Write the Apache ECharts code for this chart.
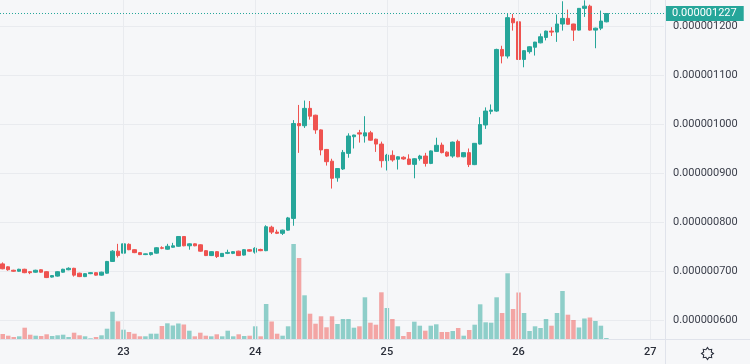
<!DOCTYPE html>
<html><head><meta charset="utf-8">
<script src="https://cdn.jsdelivr.net/npm/echarts@6/dist/echarts.min.js"></script>
<style>html,body{margin:0;padding:0;background:#f6f7f9}#chart{width:750px;height:364px}</style>
</head><body><div id="chart"></div>
<script>
// Prices are stored in units of 1e-9 (0.000001200 -> 1200)
const PRICE_UNIT = 1e-9;
// Hourly candles; first candle is 22 hours before day 23 00:00
const firstHour = -22;
const lastHourSlot = 98;
const dayTickLabels = ['23', '24', '25', '26', '27'];
const lastPrice = 1227;

const opens = [
  715, 709, 702, 700, 704, 699, 698, 703, 699, 688,
  690, 698, 703, 706, 696, 689, 695, 697, 692, 696,
  720, 741, 737, 755, 744, 738, 734, 734, 737, 748,
  745, 749, 751, 771, 752, 756, 754, 742, 732, 740,
  730, 736.5, 736.5, 741, 733, 744, 739, 744.5, 742, 790,
  780, 777.5, 784, 808, 1002, 997.5, 1033, 1019, 989, 949,
  925, 891, 909, 941, 975, 983, 976.5, 983, 970, 960,
  926, 937, 929, 933, 929.5, 918.5, 930, 935.5, 920.5, 945,
  958, 943.5, 935.5, 965.5, 934, 942.5, 918, 960, 999, 1027,
  1027.5, 1153.5, 1140, 1217, 1210, 1133, 1149, 1158, 1167, 1178,
  1191, 1189, 1205.5, 1217, 1205.5, 1193, 1237.5, 1242, 1193, 1197, 1210
];
const closes = [
  705, 703, 700, 704, 697, 697, 702, 698, 687, 691,
  699, 704, 706, 692, 689, 695, 697, 692, 698, 720,
  741, 732, 756, 744, 738, 734, 735.5, 738, 748, 747,
  751, 752, 771, 752, 756, 752, 741, 732, 740, 730,
  736.5, 738.5, 740, 732, 744, 741, 747, 742, 791, 780,
  777.5, 784, 809, 1002, 997.5, 1033, 1017, 989, 948, 924,
  890, 910, 943, 976.5, 978.5, 980.5, 983, 968, 960, 926,
  937.5, 927.5, 934, 929.5, 918.5, 930, 935.5, 920.5, 946, 957.5,
  942.5, 935.5, 964, 934, 942.5, 918, 961.5, 1000, 1027.5, 1029.5,
  1153.5, 1140, 1218.5, 1208, 1133, 1151, 1159, 1168.5, 1179.5, 1191,
  1189, 1205.5, 1217, 1205, 1193, 1237.5, 1242, 1193, 1197, 1211.5, 1227
];
const lows = [
  704, 701, 699, 699, 696, 694, 697, 697, 686, 687,
  689, 697, 702, 689, 688, 688, 694, 691, 691, 695,
  719, 728, 735, 743, 737, 733, 733, 732, 736, 745,
  744, 748, 750, 751, 744, 751, 740, 731, 731, 727,
  729, 735, 735, 731, 732, 740, 736, 741, 741, 776,
  776, 774, 783, 793, 942, 993, 1010, 981, 937, 916,
  869, 883, 907, 932, 951, 963, 963, 967, 944, 912,
  906, 924, 908, 928, 917, 890, 926, 914, 919, 944,
  941, 934, 932, 933, 933, 913, 917, 959, 991, 1021,
  1026, 1125, 1135, 1192, 1132, 1117, 1145, 1141, 1166, 1172,
  1181, 1169, 1192, 1204, 1171, 1192, 1220, 1192, 1156, 1193, 1209
];
const highs = [
  718, 710, 703, 705, 705, 700, 703, 704, 700, 692,
  700, 705, 708, 707, 697, 696, 698, 698, 699, 721,
  743, 756, 757, 757, 745, 739, 736, 739, 749, 751,
  756, 758, 772, 772, 757, 757, 755, 743, 741, 741,
  737, 744, 741, 742, 745, 745, 749, 746, 794, 793,
  785, 785, 811, 1009, 1040, 1049, 1048, 1020, 990, 950,
  930, 911, 948, 982, 979, 989, 1017, 987, 971, 965,
  940, 947, 935, 935, 939, 931, 938, 942, 947, 973,
  963, 945, 965, 969, 943, 951, 962, 1015, 1035, 1041,
  1155, 1161, 1228, 1226, 1230, 1152, 1160, 1169, 1186, 1192,
  1199, 1225, 1252, 1235, 1206, 1238, 1254, 1245, 1198, 1233, 1228
];
const volumes = [
  5, 3.3, 2, 2.7, 11.3, 4.3, 3.3, 3, 4.7, 3,
  3.7, 4.3, 2, 6.3, 3.7, 2.7, 0.7, 2, 3.7, 10.3,
  27.3, 17.7, 9.3, 7, 5.3, 2.7, 2.7, 5.3, 5.3, 13,
  15.7, 13.5, 15.5, 14.5, 8.3, 2.7, 6.3, 3.3, 2.7, 4.7,
  2.7, 8.3, 2.7, 4.7, 3, 3.3, 12.7, 2.7, 35, 17.5,
  5.3, 3.3, 12.7, 95, 81, 43.7, 25.3, 15.3, 22.7, 11.7,
  22.7, 15, 20, 20, 11.3, 12.7, 41.7, 16.3, 14.3, 46.7,
  31, 20, 12.7, 3, 7, 17.3, 13.3, 8.3, 13.3, 14.7,
  7, 7, 8, 11, 3.3, 9, 14.3, 34.7, 16.7, 16.3,
  41.7, 26, 65.7, 30, 46.5, 26, 8, 12.7, 11, 20,
  13.3, 26, 48, 24.3, 19, 11.5, 20.5, 21.5, 18, 13.3, 1
];

// hourly category slots (candles plus empty right margin)
const categories = [];
for (let h = firstHour; h <= lastHourSlot; h++) {
  const day = 23 + Math.floor(h / 24);
  const hr = ((h % 24) + 24) % 24;
  categories.push(day + ' ' + String(hr).padStart(2, '0') + ':00');
}
const isDayStart = (v) => v.endsWith(' 00:00') && dayTickLabels.includes(v.split(' ')[0]);

const UP = '#26a69a', DOWN = '#ef5350';
const UP_VOL = 'rgba(38,166,154,0.5)', DOWN_VOL = 'rgba(239,83,80,0.5)';

const candleData = opens.map((o, i) => [o, closes[i], lows[i], highs[i]]);
const volData = volumes.map((v, i) => ({
  value: v,
  itemStyle: { color: closes[i] >= opens[i] ? UP_VOL : DOWN_VOL }
}));

const FONT = "Roboto, 'Open Sans', sans-serif";
const chart = echarts.init(document.getElementById('chart'), null, { renderer: 'canvas' });
chart.setOption({
  animation: false,
  backgroundColor: '#f6f7f9',
  grid: { left: 0, right: 86, top: 0, bottom: 25 },
  xAxis: {
    type: 'category',
    data: categories,
    boundaryGap: true,
    axisLine: { show: false },
    axisTick: { show: false },
    splitLine: { show: false },
    axisLabel: {
      interval: (idx, v) => isDayStart(v),
      formatter: (v) => v.split(' ')[0],
      color: '#2a2e39',
      fontSize: 11,
      fontWeight: 500,
      fontFamily: FONT,
      margin: 8
    }
  },
  yAxis: [{
    type: 'value',
    position: 'right',
    min: 561.4,
    max: 1254.6,
    splitNumber: 7,
    axisLine: { show: false },
    axisTick: { show: false },
    splitLine: { show: true, showMinLine: false, showMaxLine: false, lineStyle: { color: '#e9ebef', width: 1 } },
    axisLabel: {
      showMinLabel: false,
      showMaxLabel: false,
      formatter: (v) => (v * PRICE_UNIT).toFixed(9),
      color: '#3a3e4a',
      fontSize: 11,
      fontFamily: FONT,
      margin: 9
    }
  }, {
    type: 'value',
    min: 0,
    max: 339,
    show: false,
    splitLine: { show: false }
  }],
  series: [{
    type: 'bar',
    name: 'Volume',
    xAxisIndex: 0,
    yAxisIndex: 1,
    data: volData,
    barWidth: 4.5,
    z: 1,
    silent: true,
    markLine: {
      silent: true,
      symbol: 'none',
      animation: false,
      label: { show: false },
      emphasis: { disabled: true },
      lineStyle: { color: '#e9ebef', width: 1, type: 'solid' },
      data: dayTickLabels.map(d => ({ xAxis: d + ' 00:00' }))
    }
  }, {
    type: 'candlestick',
    name: 'Price',
    xAxisIndex: 0,
    yAxisIndex: 0,
    data: candleData,
    barWidth: 4,
    clip: false,
    z: 3,
    itemStyle: { color: UP, color0: DOWN, borderColor: UP, borderColor0: DOWN, borderWidth: 1 }
  }, {
    type: 'line',
    name: 'Last price',
    xAxisIndex: 0,
    yAxisIndex: 0,
    data: [],
    silent: true,
    z: 2,
    color: '#26a69a',
    markLine: {
      silent: true,
      symbol: 'none',
      animation: false,
      emphasis: { disabled: true },
      lineStyle: { color: '#26a69a', width: 1, type: [1, 2] },
      label: {
        show: true,
        position: 'end',
        distance: 1,
        formatter: () => (lastPrice * PRICE_UNIT).toFixed(9),
        backgroundColor: '#26a69a',
        color: '#ffffff',
        fontSize: 11,
        fontFamily: FONT,
        lineHeight: 13,
        padding: [1, 7, 1, 7]
      },
      data: [{ yAxis: lastPrice }]
    }
  }],
  graphic: [
    { type: 'line', silent: true, z: 10, shape: { x1: 0, y1: 339.5, x2: 750, y2: 339.5 }, style: { stroke: '#e0e3eb', lineWidth: 1 } },
    { type: 'line', silent: true, z: 10, shape: { x1: 665.5, y1: 0, x2: 665.5, y2: 364 }, style: { stroke: '#e0e3eb', lineWidth: 1 } },
    {
      type: 'group', left: 699, top: 345, silent: true,
      children: [
        { type: 'polygon', shape: { points: [[7,1],[8.6,3.2],[11.2,2.8],[10.8,5.4],[13,7],[10.8,8.6],[11.2,11.2],[8.6,10.8],[7,13],[5.4,10.8],[2.8,11.2],[3.2,8.6],[1,7],[3.2,5.4],[2.8,2.8],[5.4,3.2]] }, style: { fill: 'none', stroke: '#2e3340', lineWidth: 1.1 } }
      ]
    }
  ]
});
</script>
</body></html>
